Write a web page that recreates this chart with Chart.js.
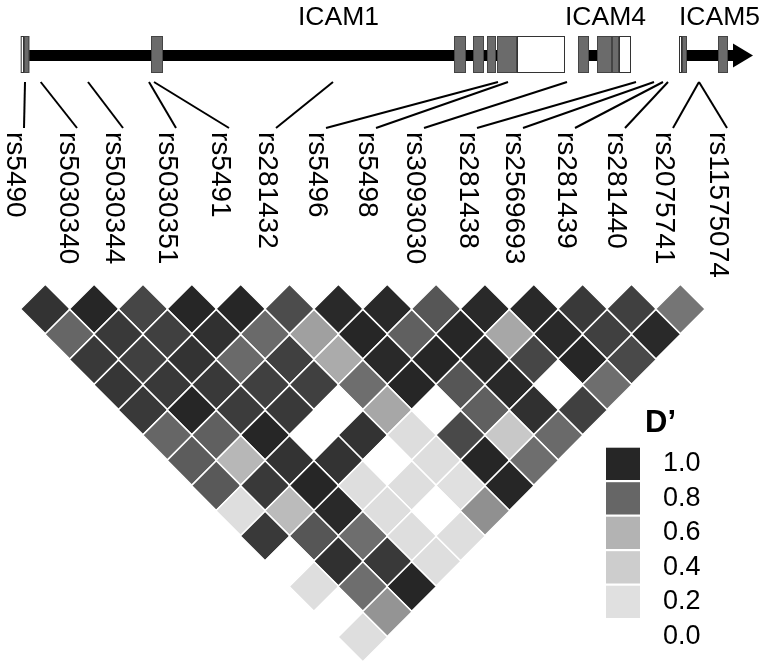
<!DOCTYPE html>
<html>
<head>
<meta charset="utf-8">
<title>ICAM LD plot</title>
<script src="https://cdn.jsdelivr.net/npm/chart.js@4.4.1/dist/chart.umd.min.js"></script>
<style>
  html, body { margin: 0; padding: 0; background: #fff; }
  #wrap { width: 760px; height: 665px; }
</style>
</head>
<body>
<div id="wrap"><canvas id="ldChart" width="760" height="665"></canvas></div>
<script>
// SNPs in map order
const snps = ["rs5490", "rs5030340", "rs5030344", "rs5030351", "rs5491", "rs281432", "rs5496",
  "rs5498", "rs3093030", "rs281438", "rs2569693", "rs281439", "rs281440", "rs2075741", "rs11575074"];

// D' values, one list per SNP distance (1 = neighbouring SNPs), left to right
const d1 = [0.96, 1.0, 0.90, 1.0, 1.0, 0.88, 0.99, 0.99, 0.85, 0.99, 0.99, 0.94, 0.92, 0.76];
const d2 = [0.80, 0.94, 0.92, 0.97, 0.79, 0.65, 1.0, 0.82, 1.0, 0.63, 0.99, 0.92, 0.99];
const d3 = [0.94, 0.92, 0.96, 0.79, 0.92, 0.62, 0.99, 1.0, 0.99, 0.90, 1.0, 0.89];
const d4 = [0.95, 0.94, 0.94, 0.92, 0.92, 0.78, 1.0, 0.85, 0.99, 0.0, 0.78];
const d5 = [0.94, 1.0, 0.93, 0.94, 0.0, 0.63, 0.0, 0.82, 0.97, 0.92];
const d6 = [0.80, 0.82, 1.0, 0.0, 0.96, 0.23, 0.89, 0.44, 0.79];
const d7 = [0.83, 0.57, 0.96, 0.96, 0.0, 0.22, 1.0, 0.78];
const d8 = [0.84, 0.94, 1.0, 0.22, 0.22, 0.20, 1.0];
const d9 = [0.22, 0.54, 0.99, 0.22, 0.0, 0.69];
const d10 = [0.94, 0.85, 0.78, 0.22, 0.22];
const d11 = [0.0, 0.97, 0.94, 0.22];
const d12 = [0.22, 0.78, 1.0];
const d13 = [0.0, 0.68];
const d14 = [0.22];
const dPrimeRows = [d1, d2, d3, d4, d5, d6, d7, d8, d9, d10, d11, d12, d13, d14];

// legend
const legendValues = [1.0, 0.8, 0.6, 0.4, 0.2];
const legendTicks = ["1.0", "0.8", "0.6", "0.4", "0.2", "0.0"];

// gene map (kb along the region)
const geneNames = ["ICAM1", "ICAM4", "ICAM5"];
const geneNameKb = [13.65, 27.0, 32.7];
const introns = [[0.2, 24.4], [27.65, 30.0], [33.1, 35.5]];
const codingExons = [[-0.05, 0.215], [6.3, 6.9], [21.45, 22.05], [22.4, 22.95], [23.1, 23.55], [23.6, 24.6],
  [27.65, 28.2], [28.6, 29.35], [29.35, 29.7], [32.85, 33.1], [34.65, 35.15]];
const utrExons = [[-0.215, -0.05], [24.6, 27.0], [29.7, 30.3], [32.7, 32.85]];
const arrowTipKb = 36.4;
const snpKb = [0.0, 0.785, 3.15, 6.2, 6.45, 15.4, 23.65, 24.15, 27.1, 30.55, 31.45, 31.9, 32.15, 33.7, 33.7];

// layout (pixels)
const TRACK_Y = 55.5;
const EXON_TOP = 36, EXON_H = 37;
const LINE_TOP = 82, LINE_BOTTOM = 128, LABEL_TOP = 132;
const labelSlots = [24, 77, 123, 176, 229, 276, 326, 376, 424, 477, 523, 575, 625, 673, 727];
const FONT = "'Liberation Sans', Arial, sans-serif";

// grey ramp matching the legend
const greyStops = [[0, 255], [0.2, 224], [0.4, 205], [0.6, 179], [0.8, 102], [1, 38]];
function ldGrey(d) {
  for (let k = 1; k < greyStops.length; k++) {
    const [a, ga] = greyStops[k - 1];
    const [b, gb] = greyStops[k];
    if (d <= b) {
      const g = Math.round(ga + (gb - ga) * (d - a) / (b - a));
      return `rgb(${g},${g},${g})`;
    }
  }
  return "rgb(38,38,38)";
}

// one diamond per SNP pair
const cells = [];
const cellColors = [];
dPrimeRows.forEach((row, r) => {
  const dist = r + 1;
  row.forEach((d, i) => {
    cells.push({ x: i + dist / 2, y: dist, d: d });
    cellColors.push(ldGrey(d));
  });
});

// gene track, SNP labels and legend
const decorPlugin = {
  id: "decor",
  afterDraw(chart) {
    const ctx = chart.ctx;
    const gx = chart.scales.gx;
    const px = (kb) => gx.getPixelForValue(kb);
    ctx.save();

    // backbone
    ctx.fillStyle = "#000";
    introns.forEach(([a, b]) => ctx.fillRect(px(a), TRACK_Y - 5.5, px(b) - px(a), 11));
    const tipX = px(arrowTipKb);
    ctx.beginPath();
    ctx.moveTo(tipX - 20, TRACK_Y - 12);
    ctx.lineTo(tipX, TRACK_Y);
    ctx.lineTo(tipX - 20, TRACK_Y + 12);
    ctx.closePath();
    ctx.fill();

    // exons
    ctx.lineWidth = 1;
    utrExons.forEach(([a, b]) => {
      ctx.fillStyle = "#fff";
      ctx.fillRect(px(a), EXON_TOP, px(b) - px(a), EXON_H);
      ctx.strokeStyle = "#333";
      ctx.strokeRect(px(a) + 0.5, EXON_TOP + 0.5, px(b) - px(a) - 1, EXON_H - 1);
    });
    codingExons.forEach(([a, b]) => {
      ctx.fillStyle = "#6b6b6b";
      ctx.fillRect(px(a), EXON_TOP, px(b) - px(a), EXON_H);
      ctx.strokeStyle = "#444";
      ctx.strokeRect(px(a) + 0.5, EXON_TOP + 0.5, px(b) - px(a) - 1, EXON_H - 1);
    });

    // gene names
    ctx.fillStyle = "#000";
    ctx.font = `26.5px ${FONT}`;
    ctx.textBaseline = "alphabetic";
    ctx.textAlign = "left";
    geneNames.forEach((g, k) => ctx.fillText(g, px(geneNameKb[k]), 25));

    // connector lines
    ctx.strokeStyle = "#000";
    ctx.lineWidth = 2;
    snps.forEach((s, k) => {
      ctx.beginPath();
      ctx.moveTo(px(snpKb[k]), LINE_TOP);
      ctx.lineTo(labelSlots[k], LINE_BOTTOM);
      ctx.stroke();
    });

    // SNP names, rotated to read downwards
    ctx.font = `28px ${FONT}`;
    snps.forEach((s, k) => {
      ctx.save();
      ctx.translate(labelSlots[k] - 17, LABEL_TOP);
      ctx.rotate(Math.PI / 2);
      ctx.fillText(s, 0, 0);
      ctx.restore();
    });

    // legend
    ctx.font = `bold 31px ${FONT}`;
    ctx.fillText("D\u2019", 645, 432);
    ctx.font = `27px ${FONT}`;
    ctx.textBaseline = "middle";
    legendValues.forEach((v, k) => {
      ctx.fillStyle = ldGrey(v);
      ctx.fillRect(606, 447.7 + k * 34.5, 34, 32.3);
    });
    ctx.fillStyle = "#000";
    legendTicks.forEach((t, k) => ctx.fillText(t, 663, 464 + k * 34.5));

    ctx.restore();
  }
};

new Chart(document.getElementById("ldChart"), {
  type: "scatter",
  data: {
    datasets: [{
      label: "D'",
      data: cells,
      pointStyle: "rectRot",
      pointRadius: 24.8,
      pointHoverRadius: 24.8,
      backgroundColor: cellColors,
      borderColor: "#fff",
      borderWidth: 1.5,
      clip: false
    }]
  },
  options: {
    responsive: false,
    animation: false,
    events: [],
    layout: { padding: 0, autoPadding: false },
    plugins: { legend: { display: false }, tooltip: { enabled: false } },
    scales: {
      x: { type: "linear", min: -0.4273, max: 15.1305, display: false },
      y: { type: "linear", reverse: true, min: -11.247, max: 15.11, display: false },
      gx: { type: "linear", axis: "x", min: -1.25, max: 36.75, display: false }
    }
  },
  plugins: [decorPlugin]
});
</script>
</body>
</html>
